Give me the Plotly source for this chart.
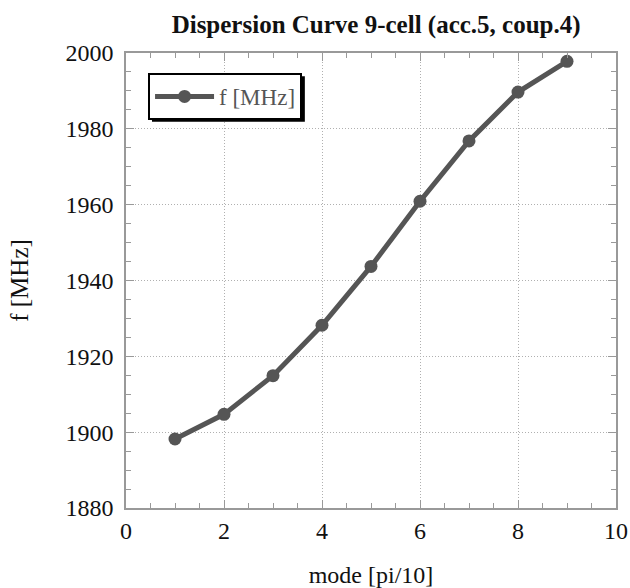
import plotly.graph_objects as go

mode = [1, 2, 3, 4, 5, 6, 7, 8, 9]
freq = [1898.2, 1904.7, 1914.9, 1928.2, 1943.7, 1960.9, 1976.8, 1989.7, 1997.8]

serif = "Liberation Serif, Times New Roman, serif"

fig = go.Figure()
fig.add_trace(go.Scatter(
    x=mode, y=freq, mode="lines+markers", name="f [MHz]",
    line=dict(color="#555555", width=5),
    marker=dict(color="#555555", size=13),
))

axis_common = dict(
    showline=True, linecolor="#999999", linewidth=1.5, mirror="ticks",
    ticks="inside", ticklen=8, tickcolor="#999999",
    showgrid=True, gridcolor="#b0b0b0", griddash="1px,2px", gridwidth=1,
    zeroline=False, automargin=False,
    tickfont=dict(family=serif, size=24, color="#111111"),
)

fig.update_xaxes(
    range=[0, 10], dtick=2, tick0=0,
    minor=dict(dtick=0.5, ticks="inside", ticklen=5, tickcolor="#999999", showgrid=False),
    title=dict(text="mode [pi/10]", font=dict(family=serif, size=24, color="#111111"), standoff=27),
    **axis_common,
)
fig.update_yaxes(
    range=[1880, 2000], dtick=20, tick0=1880,
    minor=dict(dtick=5, ticks="inside", ticklen=5, tickcolor="#999999", showgrid=False),
    title=dict(text="f [MHz]", font=dict(family=serif, size=25, color="#111111"), standoff=30),
    ticklabelstandoff=6,
    **axis_common,
)

# legend drop shadow
fig.add_shape(type="rect", xref="paper", yref="paper",
              x0=0.053, x1=0.365, y0=0.849, y1=0.949,
              fillcolor="black", line=dict(width=0), layer="above")

fig.update_layout(
    width=630, height=588,
    margin=dict(l=126, r=14, t=53, b=80),
    paper_bgcolor="white", plot_bgcolor="white",
    title=dict(text="<b>Dispersion Curve 9-cell (acc.5, coup.4)</b>",
               font=dict(family=serif, size=25, color="#111111"),
               x=0.597, xanchor="center", y=0.959, yanchor="middle"),
    showlegend=True,
    legend=dict(x=0.045, y=0.956, xanchor="left", yanchor="top",
                bgcolor="white", bordercolor="black", borderwidth=2,
                itemwidth=59,
                font=dict(family=serif, size=23, color="#555555")),
)

fig.write_html(
    "out.html",
    config={"displayModeBar": False},
    post_script="document.body.style.margin='0';document.body.style.overflow='hidden';",
)
